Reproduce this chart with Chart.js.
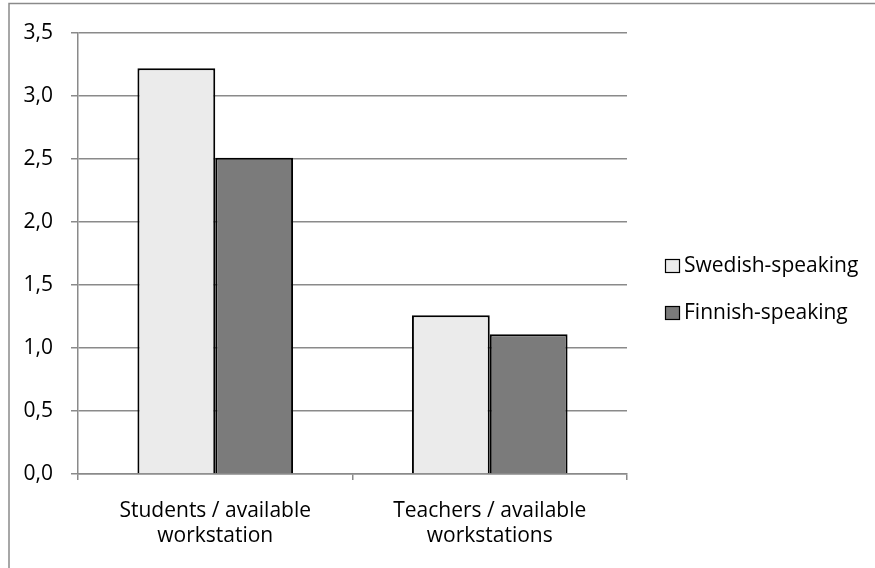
<!DOCTYPE html>
<html>
<head>
<meta charset="utf-8">
<script src="https://cdn.jsdelivr.net/npm/chart.js@4/dist/chart.umd.min.js"></script>
<style>
  html, body { margin: 0; padding: 0; background: #fff; }
  #wrap { width: 875px; height: 568px; position: relative; }
</style>
</head>
<body>
<div id="wrap"><canvas id="c" width="875" height="568"></canvas></div>
<script>
// Categories and series
const categories = [
  ['Students / available', 'workstation'],
  ['Teachers / available', 'workstations']
];
const seriesNames = ['Swedish-speaking', 'Finnish-speaking'];
const swedishValues = [3.22, 1.26];
const finnishValues = [2.51, 1.11];
const yTicks = [0, 0.5, 1, 1.5, 2, 2.5, 3, 3.5];

const FONT = 'Open Sans';
const fillColors = ['#ebebeb', '#7b7b7b'];

// Frame around the chart (top and left edges)
const framePlugin = {
  id: 'frame',
  beforeDraw(chart) {
    const ctx = chart.ctx;
    ctx.save();
    ctx.fillStyle = '#fff';
    ctx.fillRect(0, 0, chart.width, chart.height);
    ctx.strokeStyle = '#8a8a8a';
    ctx.lineWidth = 1.5;
    ctx.beginPath();
    ctx.moveTo(9, chart.height);
    ctx.lineTo(9, 3.5);
    ctx.lineTo(chart.width, 3.5);
    ctx.stroke();
    ctx.restore();
  }
};

// Legend drawn to the right of the plot area
const sideLegend = {
  id: 'sideLegend',
  afterDraw(chart) {
    const ctx = chart.ctx;
    ctx.save();
    ctx.font = '21px "' + FONT + '"';
    ctx.textBaseline = 'middle';
    ctx.textAlign = 'left';
    const ys = [266, 313];
    chart.data.datasets.forEach((ds, i) => {
      const y = ys[i];
      ctx.fillStyle = ds.backgroundColor;
      ctx.fillRect(665, y - 7, 15, 14);
      ctx.strokeStyle = '#000';
      ctx.lineWidth = 1.2;
      ctx.strokeRect(665.5, y - 6.5, 14, 13);
      ctx.fillStyle = '#000';
      ctx.fillText(ds.label, 684, y);
    });
    ctx.restore();
  }
};

new Chart(document.getElementById('c'), {
  type: 'bar',
  data: {
    labels: categories,
    datasets: [
      { label: seriesNames[0], data: swedishValues, backgroundColor: fillColors[0] },
      { label: seriesNames[1], data: finnishValues, backgroundColor: fillColors[1] }
    ]
  },
  options: {
    responsive: false,
    animation: false,
    layout: { padding: { top: 33, right: 248, left: 0, bottom: 0 } },
    datasets: {
      bar: {
        borderColor: '#000',
        borderWidth: 2,
        borderSkipped: 'bottom',
        barPercentage: 1,
        categoryPercentage: 0.567
      }
    },
    plugins: {
      legend: { display: false },
      tooltip: { enabled: false }
    },
    scales: {
      x: {
        afterFit(scale) { scale.height = 94; },
        grid: {
          display: true,
          offset: true,
          drawOnChartArea: false,
          drawTicks: true,
          tickLength: 6,
          color: '#8a8a8a',
          lineWidth: 1.5
        },
        border: { display: true, color: '#8a8a8a', width: 1.5 },
        ticks: {
          color: '#000',
          font: { family: FONT, size: 21, lineHeight: 1.17 },
          padding: 19,
          maxRotation: 0
        }
      },
      y: {
        min: 0,
        max: 3.5,
        afterFit(scale) { scale.width = 78; },
        afterBuildTicks(scale) { scale.ticks = yTicks.map(v => ({ value: v })); },
        grid: {
          color: '#8a8a8a',
          lineWidth: 1.5,
          tickLength: 7
        },
        border: { display: true, color: '#8a8a8a', width: 1.5 },
        ticks: {
          color: '#000',
          font: { family: FONT, size: 21 },
          padding: 18,
          callback: v => v.toFixed(1).replace('.', ',')
        }
      }
    }
  },
  plugins: [framePlugin, sideLegend]
});
</script>
</body>
</html>
